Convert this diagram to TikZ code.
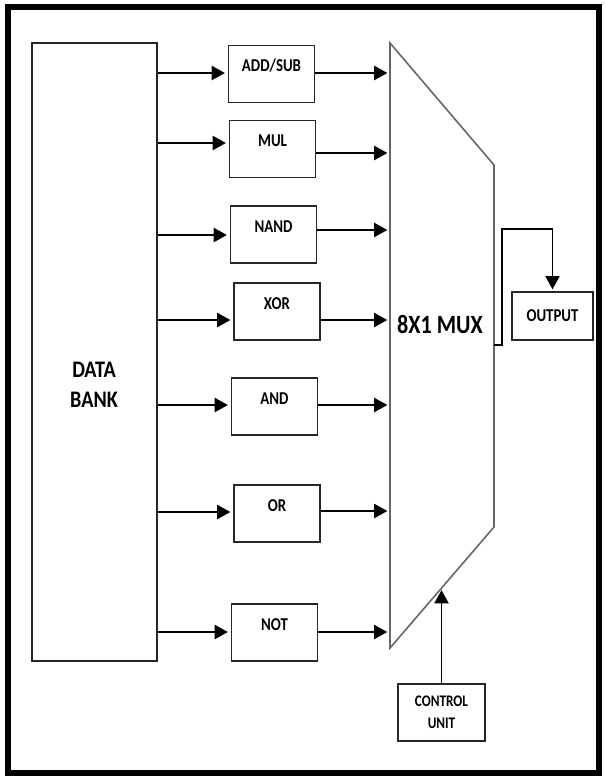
\documentclass[tikz,border=0pt]{standalone}
\usepackage{fontspec}
\setmainfont{Carlito}
\usetikzlibrary{arrows.meta,calc}
\newcommand{\cnd}[2][0.82]{\scalebox{#1}[1]{#2}}

\begin{document}
\begin{tikzpicture}[
  x=0.02cm, y=-0.02cm, >={Triangle[length=7.5pt,width=8pt]},
  blk/.style={draw=black!85, line width=1.1pt, inner sep=0pt},
  opbox/.style={blk, minimum width=1.72cm, minimum height=1.14cm},
  optext/.style={font=\fontsize{10.3}{12}\selectfont\bfseries},
  big/.style={font=\fontsize{13.5}{17}\selectfont\bfseries},
  wire/.style={line width=1.1pt, shorten >=1.5pt},
]
\useasboundingbox (0,0) rectangle (605,778);
% ---- outer frame
\draw[line width=3.4pt] (8,7) rectangle (599,773);
% ---- data bank
\node[blk, minimum width=2.5cm, minimum height=12.36cm] (bank) at (94.5,352) {};
\node[big, align=center] (banktxt) at (94,385) {\cnd[0.85]{DATA}\\\cnd[0.85]{BANK}};
% ---- multiplexer outline
\coordinate (mtl) at (390,43);
\coordinate (mtr) at (494,165);
\coordinate (mbr) at (494,527);
\coordinate (mbl) at (390,648);
\draw[black!60, line width=0.9pt] (mtl) -- (mtr) -- (mbr) -- (mbl) -- cycle;
\node[big, font=\fontsize{15}{17}\selectfont\bfseries] (muxtxt) at (440,324) {\cnd[0.84]{8X1 MUX}};
% ---- operation blocks: name/label/x/y/in-wire/out-wire
\foreach \n/\t/\x/\y/\yi/\yo in {add/{ADD/SUB}/271.5/74/73/73,
    mul/MUL/272.5/149/143/153, nand/NAND/273.5/234.5/235/230,
    xor/XOR/277/311.5/320/320, and/AND/274.5/406.5/405/405,
    or/OR/277/513.5/512/511, not/NOT/274.5/632.5/632/632} {
  \node[opbox] (\n) at (\x,\y) {};
  \node[optext] (t\n) at (\x,\y-8) {\cnd{\t}};
  \draw[wire,->] (bank.east |- 0,\yi) -- (\n.west |- 0,\yi);
  \draw[wire,->] (\n.east |- 0,\yo) -- (mtl |- 0,\yo);
}
% ---- output
\node[blk, minimum width=1.62cm, minimum height=0.96cm,
  font=\fontsize{10.3}{12}\selectfont\bfseries] (out) at (552.5,316) {\cnd{OUTPUT}};
\draw[line width=1pt, ->, shorten >=1pt] (mbr |- 0,345) -- ++(8,0)
  |- ($(out.north)+(0,-62)$) -- (out.north);
% ---- control unit
\node[blk, minimum width=1.74cm, minimum height=1.14cm, align=center,
  font=\fontsize{9.2}{12.5}\selectfont\bfseries] (ctrl) at (441.5,712.5) {\cnd{CONTROL}\\\cnd{UNIT}};
\coordinate (sel) at ($(mbr)!0.5!(mbl)$);
\draw[wire,->] (ctrl.north) -- (ctrl.north |- sel);
\end{tikzpicture}
\end{document}
